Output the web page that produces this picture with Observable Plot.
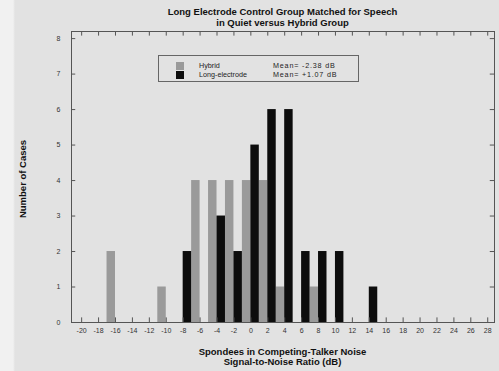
<!DOCTYPE html>
<html>
<head>
<meta charset="utf-8">
<script src="https://cdn.jsdelivr.net/npm/d3@7"></script>
<script src="https://cdn.jsdelivr.net/npm/@observablehq/plot@0.6"></script>
<style>
  html, body { margin: 0; padding: 0; }
  body { font-family: "Liberation Sans", Arial, sans-serif; }
  #wrap {
    position: relative; width: 499px; height: 371px; overflow: hidden;
    background: linear-gradient(to right, #f1f1f1 0, #f1f1f1 13px, #e2e2e2 15px, #e2e2e2 100%);
  }
  #wrap svg { position: absolute; left: 0; top: 0; }
  .title, .xtitle { position: absolute; left: 71px; width: 423px; text-align: center;
    font-weight: bold; font-size: 9.5px; color: #111; line-height: 11px; }
  .ytitle { position: absolute; left: 22px; top: 179px; transform: translate(-50%, -50%) rotate(-90deg);
    white-space: nowrap; font-weight: bold; font-size: 9.5px; color: #111; }
  .legend { position: absolute; left: 158px; top: 55px; width: 201px; height: 27px;
    border: 1px solid #666; box-sizing: border-box; font-size: 7.2px; color: #222; }
  .legend .row { position: absolute; left: 0; height: 9px; width: 100%; }
  .legend .sw { position: absolute; left: 17px; top: 0; width: 8px; height: 8px; }
  .legend .name { position: absolute; left: 40px; top: 0; line-height: 8px; }
  .legend .mean { position: absolute; left: 114px; top: 0; line-height: 8px; letter-spacing: 0.8px; }
</style>
</head>
<body>
<div id="wrap"></div>
<script>
// Spondee SRT in competing-talker noise, histogram counts per 2 dB bin
const snrHybrid = [-16, -10, -6, -4, -2, 0, 2, 4, 8];
const casesHybrid = [2, 1, 4, 4, 4, 4, 4, 1, 1];
const snrLong = [-8, -4, -2, 0, 2, 4, 6, 8, 10, 14];
const casesLong = [2, 3, 2, 5, 6, 6, 2, 2, 2, 1];

const groupNames = ["Hybrid", "Long-electrode"];
const groupMeans = ["Mean= -2.38 dB", "Mean= +1.07 dB"];
const groupColors = ["#9a9a9a", "#0d0d0d"];

const xTicks = [-20, -18, -16, -14, -12, -10, -8, -6, -4, -2, 0, 2, 4, 6, 8, 10, 12, 14, 16, 18, 20, 22, 24, 26, 28];
const yTicks = [0, 1, 2, 3, 4, 5, 6, 7, 8];

const titleLines = ["Long Electrode Control Group Matched for Speech", "in Quiet versus Hybrid Group"];
const xTitleLines = ["Spondees in Competing-Talker Noise", "Signal-to-Noise Ratio (dB)"];
const yTitle = "Number of Cases";

const xDomain = [-21.2, 28.8];
const yDomain = [0, 8.2];

// hybrid bars sit just left of the bin value, long-electrode bars just right
const hybrid = snrHybrid.map((s, i) => ({snr: s, cases: casesHybrid[i], x1: s - 1, x2: s}));
const longEl = snrLong.map((s, i) => ({snr: s, cases: casesLong[i], x1: s, x2: s + 1}));

const tickLenX = 0.13;  // in y units
const tickLenY = 0.5;   // in x units

const chart = Plot.plot({
  width: 499,
  height: 371,
  marginLeft: 71,
  marginRight: 5,
  marginTop: 31,
  marginBottom: 49,
  style: {background: "transparent", fontFamily: "Liberation Sans, Arial, sans-serif"},
  x: {domain: xDomain},
  y: {domain: yDomain},
  marks: [
    Plot.rect(hybrid, {x1: "x1", x2: "x2", y1: 0, y2: "cases", fill: groupColors[0]}),
    Plot.rect(longEl, {x1: "x1", x2: "x2", y1: 0, y2: "cases", fill: groupColors[1]}),
    // inward tick marks on all four sides
    Plot.ruleX(xTicks, {x: d => d, y1: yDomain[0], y2: yDomain[0] + tickLenX, stroke: "#555"}),
    Plot.ruleX(xTicks, {x: d => d, y1: yDomain[1] - tickLenX, y2: yDomain[1], stroke: "#555"}),
    Plot.ruleY(yTicks, {y: d => d, x1: xDomain[0], x2: xDomain[0] + tickLenY, stroke: "#555"}),
    Plot.ruleY(yTicks, {y: d => d, x1: xDomain[1] - tickLenY, x2: xDomain[1], stroke: "#555"}),
    Plot.axisX({ticks: xTicks, tickSize: 0, tickPadding: 6, fontSize: 7, label: null, tickFormat: d => String(d), color: "#333"}),
    Plot.axisY({ticks: yTicks, tickSize: 0, tickPadding: 11, fontSize: 7, label: null, color: "#333"}),
    Plot.frame({stroke: "#555"})
  ]
});

const wrap = document.getElementById("wrap");
wrap.appendChild(chart);

function addDiv(cls, text, top) {
  const d = document.createElement("div");
  d.className = cls;
  d.textContent = text;
  if (top != null) d.style.top = top + "px";
  wrap.appendChild(d);
  return d;
}
addDiv("title", titleLines[0], 6);
addDiv("title", titleLines[1], 17);
addDiv("xtitle", xTitleLines[0], 346);
addDiv("xtitle", xTitleLines[1], 356);
addDiv("ytitle", yTitle);

const legend = document.createElement("div");
legend.className = "legend";
groupNames.forEach((name, i) => {
  const row = document.createElement("div");
  row.className = "row";
  row.style.top = (6 + i * 9) + "px";
  const sw = document.createElement("div");
  sw.className = "sw";
  sw.style.background = groupColors[i];
  const nm = document.createElement("div");
  nm.className = "name";
  nm.textContent = name;
  const mn = document.createElement("div");
  mn.className = "mean";
  mn.textContent = groupMeans[i];
  row.append(sw, nm, mn);
  legend.appendChild(row);
});
wrap.appendChild(legend);
</script>
</body>
</html>
